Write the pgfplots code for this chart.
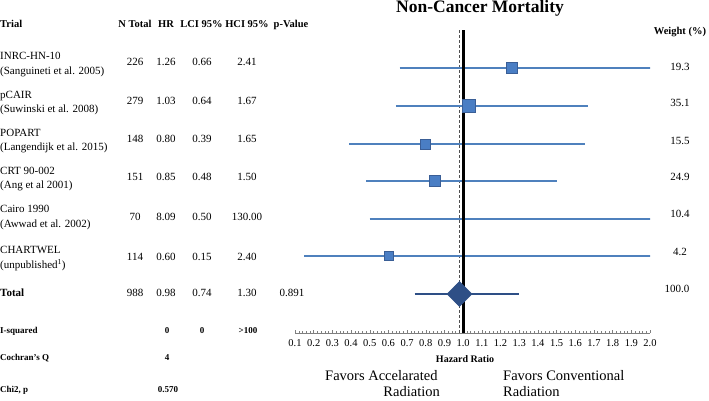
\documentclass[border=0pt]{standalone}
\usepackage{pgfplots}
\pgfplotsset{compat=1.18}
\usepackage{fontspec}
\setmainfont{Liberation Serif}
\definecolor{ciblue}{HTML}{4F81BD}
\definecolor{mkfill}{HTML}{4A7EC4}
\definecolor{mkdraw}{HTML}{3A5E96}
\definecolor{totblue}{HTML}{2E4F86}
\definecolor{axgray}{HTML}{7F7F7F}
\definecolor{dashgray}{HTML}{505050}
\begin{document}
\begin{tikzpicture}
\path[use as bounding box] (0pt,0pt) rectangle (709pt,401pt);
\begin{axis}[
  at={(295pt,68pt)}, anchor=south west,
  scale only axis, width=355pt, height=303pt,
  xmin=0.1, xmax=2.0, ymin=68, ymax=371,
  restrict x to domain*=0:3,
  axis x line=bottom, axis y line=none, ytick=\empty,
  x axis line style={-, draw=axgray, line width=0.6pt},
  xtick={0.1,0.2,0.3,0.4,0.5,0.6,0.7,0.8,0.9,1.0,1.1,1.2,1.3,1.4,1.5,1.6,1.7,1.8,1.9,2.0},
  xticklabels={0.1,0.2,0.3,0.4,0.5,0.6,0.7,0.8,0.9,1.0,1.1,1.2,1.3,1.4,1.5,1.6,1.7,1.8,1.9,2.0},
  minor x tick num=4,
  tick align=inside,
  major tick length=3pt, minor tick length=2.2pt,
  every tick/.style={axgray, line width=0.45pt},
  xticklabel style={font=\fontsize{10.5}{12}\selectfont, yshift=-3pt},
]
% reference lines
\addplot[dashgray, line width=1.5pt, dash pattern=on 3pt off 2pt] coordinates {(0.98,68) (0.98,371)};
% confidence intervals
\addplot[ciblue, line width=2.6pt] coordinates {(0.66,333) (2.41,333)};
\addplot[ciblue, line width=2.6pt] coordinates {(0.64,295) (1.67,295)};
\addplot[ciblue, line width=2.6pt] coordinates {(0.39,257) (1.65,257)};
\addplot[ciblue, line width=2.6pt] coordinates {(0.48,220) (1.50,220)};
\addplot[ciblue, line width=2.6pt] coordinates {(0.50,182) (130.00,182)};
\addplot[ciblue, line width=2.6pt] coordinates {(0.15,145) (2.40,145)};
\addplot[totblue, line width=2.8pt] coordinates {(0.74,107) (1.30,107)};
\addplot[black, line width=3pt] coordinates {(1.0,68) (1.0,371)};
% point estimates
\addplot[only marks, mark=square*, mark size=5.5pt, mark options={fill=mkfill, draw=mkdraw, line width=0.6pt}] coordinates {(1.26,333)};
\addplot[only marks, mark=square*, mark size=6.2pt, mark options={fill=mkfill, draw=mkdraw, line width=0.6pt}] coordinates {(1.03,295)};
\addplot[only marks, mark=square*, mark size=5.0pt, mark options={fill=mkfill, draw=mkdraw, line width=0.6pt}] coordinates {(0.80,257)};
\addplot[only marks, mark=square*, mark size=5.6pt, mark options={fill=mkfill, draw=mkdraw, line width=0.6pt}] coordinates {(0.85,220)};
\addplot[only marks, mark=square*, mark size=4.0pt, mark options={fill=mkfill, draw=mkdraw, line width=0.6pt}] coordinates {(8.09,182)};
\addplot[only marks, mark=square*, mark size=4.6pt, mark options={fill=mkfill, draw=mkdraw, line width=0.6pt}] coordinates {(0.60,145)};
% pooled estimate diamond
\addplot[fill=totblue, draw=totblue, line width=0.5pt] coordinates {(0.914,107) (0.98,119.5) (1.047,107) (0.98,94.5)} -- cycle;
\end{axis}
\begin{scope}[x=1pt,y=1pt]
\tikzset{
  b/.style={font=\fontsize{11}{13}\selectfont, inner sep=0pt},
  h/.style={font=\fontsize{10.5}{13}\selectfont\bfseries, inner sep=0pt},
  s/.style={font=\fontsize{9}{11}\selectfont\bfseries, inner sep=0pt},
}
% title
\node[font=\fontsize{17.5}{20}\selectfont\bfseries, inner sep=0pt] at (480,392.5) {Non-Cancer Mortality};
% header
\node[h, anchor=mid west] at (0,376) {Trial};
\node[h, anchor=mid] at (135,376) {N Total};
\node[h, anchor=mid] at (166,376) {HR};
\node[h, anchor=mid] at (201.5,376) {LCI 95\%};
\node[h, anchor=mid] at (247,376) {HCI 95\%};
\node[h, anchor=mid] at (291,376) {p-Value};
\node[h, anchor=mid] at (680,369) {Weight (\%)};
% rows
\foreach \na/\au/\yn/\ya/\yv/\n/\hr/\lc/\hc/\w/\yw in {
  INRC-HN-10/(Sanguineti et al. 2005)/344/329/338/226/1.26/0.66/2.41/19.3/333,
  pCAIR/(Suwinski et al. 2008)/305/291/299/279/1.03/0.64/1.67/35.1/297,
  POPART/(Langendijk et al. 2015)/267/253/261/148/0.80/0.39/1.65/15.5/259,
  CRT 90-002/(Ang et al 2001)/229/215/223/151/0.85/0.48/1.50/24.9/223,
  Cairo 1990/(Awwad et al. 2002)/191/176/183/70/8.09/0.50/130.00/10.4/186,
  CHARTWEL/(unpublished\textsuperscript{1})/150/135/143/114/0.60/0.15/2.40/4.2/148}{
  \node[b, anchor=mid west] at (0,\yn) {\na};
  \node[b, anchor=mid west] at (0,\ya) {\au};
  \node[b, anchor=mid] at (135,\yv) {\n};
  \node[b, anchor=mid] at (166,\yv) {\hr};
  \node[b, anchor=mid] at (202,\yv) {\lc};
  \node[b, anchor=mid] at (247,\yv) {\hc};
  \node[b, anchor=mid] at (680,\yw) {\w};
}
% total
\node[font=\fontsize{11}{13}\selectfont\bfseries, inner sep=0pt, anchor=mid west] at (0,107) {Total};
\node[b, anchor=mid] at (135,107) {988};
\node[b, anchor=mid] at (166,107) {0.98};
\node[b, anchor=mid] at (202,107) {0.74};
\node[b, anchor=mid] at (247,107) {1.30};
\node[b, anchor=mid] at (292,107) {0.891};
\node[b, anchor=mid] at (677,111) {100.0};
% statistics
\node[s, anchor=mid west] at (0,70) {I-squared};
\node[s, anchor=mid] at (167,70) {0};
\node[s, anchor=mid] at (202,70) {0};
\node[s, anchor=mid] at (248,70) {>100};
\node[s, anchor=mid west] at (0,43) {Cochran's Q};
\node[s, anchor=mid] at (167,43) {4};
\node[s, anchor=mid west] at (0,11) {Chi2, p};
\node[s, anchor=mid] at (168,11) {0.570};
% axis captions
\node[font=\fontsize{10}{12}\selectfont\bfseries, inner sep=0pt, anchor=mid] at (465,41) {Hazard Ratio};
\node[font=\fontsize{14.5}{17}\selectfont, inner sep=0pt, anchor=mid west] at (325,23) {Favors Accelarated};
\node[font=\fontsize{14.5}{17}\selectfont, inner sep=0pt, anchor=mid east] at (440,7) {Radiation};
\node[font=\fontsize{14.5}{17}\selectfont, inner sep=0pt, anchor=mid west] at (503,23) {Favors Conventional};
\node[font=\fontsize{14.5}{17}\selectfont, inner sep=0pt, anchor=mid west] at (503,7) {Radiation};
\end{scope}
\end{tikzpicture}
\end{document}
